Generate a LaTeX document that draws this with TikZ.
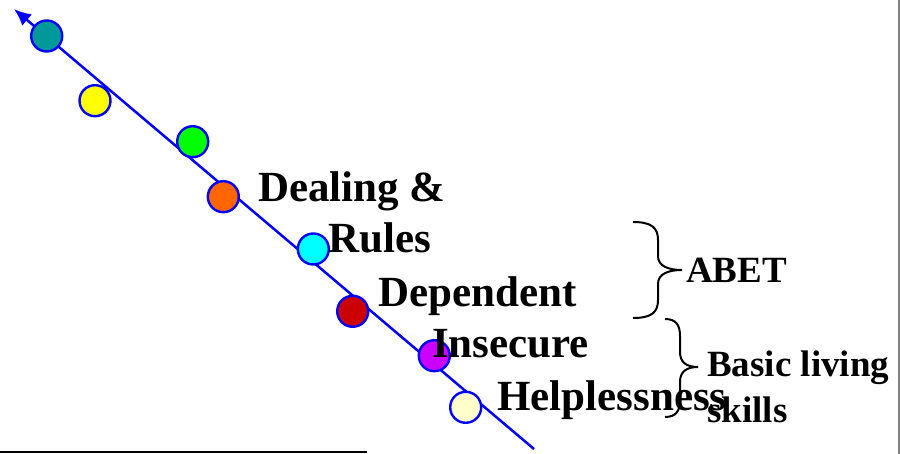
\documentclass[tikz,border=0pt]{standalone}
\usepackage{fontspec}
\setmainfont{Liberation Serif}
\usetikzlibrary{arrows.meta}
\definecolor{cteal}{HTML}{009999}
\definecolor{cyellow}{HTML}{FFFF00}
\definecolor{cgreen}{HTML}{00FF00}
\definecolor{corange}{HTML}{FF6600}
\definecolor{ccyan}{HTML}{00FFFF}
\definecolor{cdred}{HTML}{CC0000}
\definecolor{cmag}{HTML}{CC00FF}
\definecolor{cpale}{HTML}{FFFFCC}
\begin{document}
\begin{tikzpicture}[x=1pt,y=-1pt,
  dot/.style={circle,draw=blue,line width=2.4pt,minimum size=31pt,inner sep=0pt},
  big/.style={anchor=base west,inner sep=0pt,font=\fontsize{43}{50}\selectfont\bfseries},
  mid/.style={anchor=base west,inner sep=0pt,font=\fontsize{37}{44}\selectfont\bfseries},
  brace/.style={draw=black,line width=2pt}]
\useasboundingbox (0,0) rectangle (900,454);
% frame pieces
\draw[gray,line width=1.2pt] (899,0) -- (899,454);
\draw[black,line width=2pt] (0,452) -- (367,452);
% axis
\coordinate (lo) at (534,449);
\coordinate (hi) at (14,9);
\draw[blue,line width=2.5pt,-{Latex[length=17pt,width=15pt]}] (lo) -- (hi);
% stages
\node[dot,fill=cteal]   (s1) at (46.7,36) {};
\node[dot,fill=cyellow] (s2) at (95,100.7) {};
\node[dot,fill=cgreen]  (s3) at (192.7,141.7) {};
\node[dot,fill=corange] (s4) at (223.3,196.7) {};
\node[dot,fill=ccyan]   (s5) at (313.3,249) {};
\node[dot,fill=cdred]   (s6) at (352.7,311.3) {};
\node[dot,fill=cmag]    (s7) at (434.3,355.7) {};
\node[dot,fill=cpale]   (s8) at (465.7,407.3) {};
% labels
\node[big] (dealing) at (258,202) {Dealing \&};
\node[big] (rules)   at (328,253) {Rules};
\node[big] (dep)     at (378,307) {Dependent};
\node[big] (insec)   at (432,358) {Insecure};
\node[big] (help)    at (497,410) {Helplessness};
% groups
\draw[brace] (633,222) .. controls (652,222) and (658,228) .. (658,240)
  -- (658,256) .. controls (658,266) and (668,270) .. (682,270)
  .. controls (668,270) and (658,274) .. (658,284)
  -- (658,300) .. controls (658,312) and (652,318) .. (633,318);
\node[mid] (abet) at (686,283) {ABET};
\draw[brace] (665,319) .. controls (676,319) and (680,325) .. (680,336)
  -- (680,352) .. controls (680,362) and (686,367) .. (698,367)
  .. controls (686,367) and (680,372) .. (680,382)
  -- (680,400) .. controls (680,411) and (676,417) .. (665,417);
\node[mid] (basic)  at (707,377) {Basic living};
\node[mid] (skills) at (707,422) {skills};
\end{tikzpicture}
\end{document}
